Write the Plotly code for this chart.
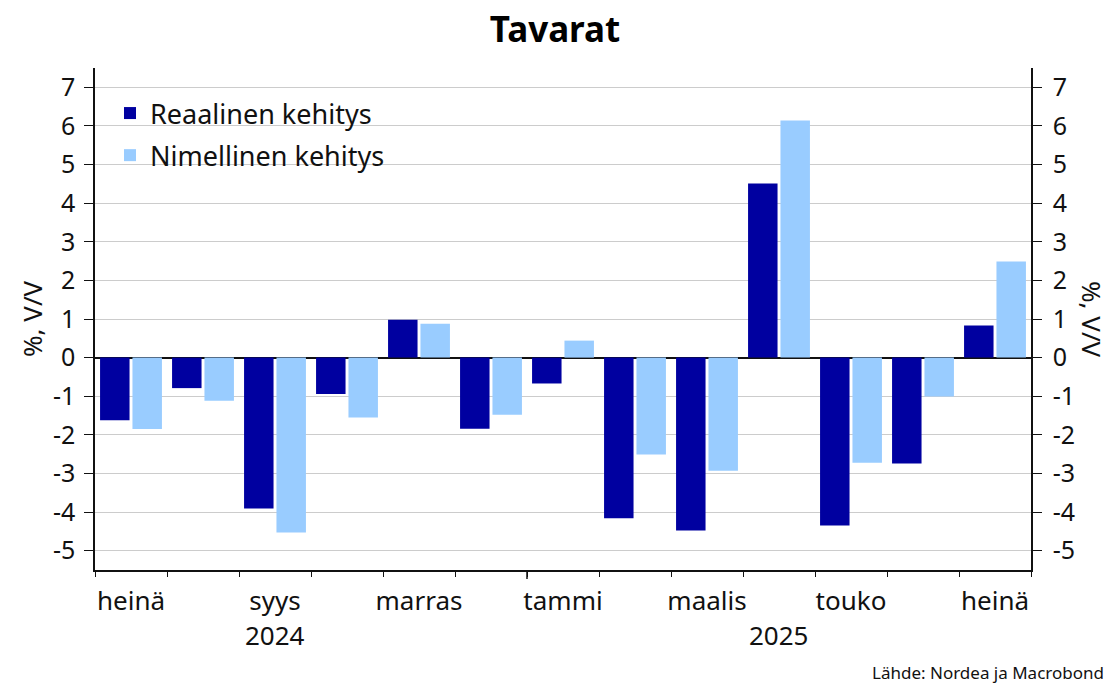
import plotly.graph_objects as go

# ---- data ----
months = ["heinä", "elo", "syys", "loka", "marras", "joulu",
          "tammi", "helmi", "maalis", "huhti", "touko", "kesä", "heinä"]
years = [2024, 2024, 2024, 2024, 2024, 2024,
         2025, 2025, 2025, 2025, 2025, 2025, 2025]
real = [-1.62, -0.79, -3.91, -0.94, 0.98, -1.84, -0.67, -4.16, -4.48, 4.51, -4.35, -2.74, 0.83]
nominal = [-1.85, -1.12, -4.53, -1.55, 0.88, -1.48, 0.44, -2.51, -2.93, 6.14, -2.72, -1.01, 2.49]
series_names = ["Reaalinen kehitys", "Nimellinen kehitys"]
y_ticks = list(range(-5, 8))

FONT = "Noto Sans"
DARK = "#0000A0"
LIGHT = "#99CCFF"

x = list(range(len(months)))
label_idx = x[::2]

fig = go.Figure()
fig.add_trace(go.Bar(x=x, y=real, name=series_names[0], marker=dict(color=DARK, line=dict(width=0)),
                     legendgroup="a"))
fig.add_trace(go.Bar(x=x, y=nominal, name=series_names[1], marker=dict(color=LIGHT, line=dict(width=0)),
                     legendgroup="b"))

W, H = 1110, 686
ml, mr, mt, mb = 95, 79, 68, 116
pw, ph = W - ml - mr, H - mt - mb

def px_x(p):
    return (p - ml) / pw

def px_y(p):
    return 1 - (p - mt) / ph

yr = [-5.5, 7.5]
ytickfont = dict(family=FONT, size=25, color="#111")

fig.update_layout(
    width=W, height=H,
    margin=dict(l=ml, r=mr, t=mt, b=mb, autoexpand=False),
    paper_bgcolor="white", plot_bgcolor="white",
    barmode="group", bargap=0.1, bargroupgap=0.09,
    font=dict(family=FONT, color="#111"),
    title=dict(text="<b>Tavarat</b>", x=0.5, xanchor="center", y=1 - 30 / H, yanchor="middle",
               font=dict(family=FONT, size=35, color="#000")),
    showlegend=True,
    legend=dict(x=px_x(110), y=px_y(89), xanchor="left", yanchor="top",
                bgcolor="rgba(0,0,0,0)", borderwidth=0, tracegroupgap=4,
                font=dict(family=FONT, size=27, color="#111"), itemwidth=30),
    xaxis=dict(range=[-0.5, len(months) - 0.5], showline=True, linecolor="#111", linewidth=1.5,
               tickmode="array", tickvals=label_idx, ticktext=[months[i] for i in label_idx],
               ticks="", showgrid=False, zeroline=False, ticklabelstandoff=7,
               tickfont=dict(family=FONT, size=26, color="#111"),
               minor=dict(tickmode="array", tickvals=[i - 0.5 for i in range(len(months) + 1)],
                          ticks="outside", ticklen=5, tickwidth=1.2, tickcolor="#111", showgrid=False)),
    yaxis=dict(range=yr, tickmode="array", tickvals=y_ticks, ticktext=[str(v) for v in y_ticks],
               showline=True, linecolor="#111", linewidth=1.5, ticks="outside", ticklen=9,
               tickcolor="#111", tickwidth=1.2, showgrid=True, gridcolor="#cccccc", gridwidth=1,
               zeroline=True, zerolinecolor="#111", zerolinewidth=1.5,
               tickfont=ytickfont, ticklabelstandoff=4),
    yaxis2=dict(range=yr, overlaying="y", side="right", tickmode="array", tickvals=y_ticks,
                ticktext=[str(v) for v in y_ticks], showline=True, linecolor="#111", linewidth=1.5,
                ticks="outside", ticklen=9, tickcolor="#111", tickwidth=1.2, showgrid=False,
                zeroline=False, tickfont=ytickfont, ticklabelstandoff=6),
)

# invisible trace so yaxis2 is drawn
fig.add_trace(go.Scatter(x=[x[0]], y=[0], yaxis="y2", mode="markers", marker=dict(opacity=0),
                         showlegend=False, hoverinfo="skip"))

# year labels centered under their labelled months
for yv in sorted(set(years)):
    idxs = [i for i in label_idx if years[i] == yv]
    fig.add_annotation(x=sum(idxs) / len(idxs), xref="x", y=px_y(635), yref="paper",
                       text=str(yv), showarrow=False, xanchor="center", yanchor="middle",
                       font=dict(family=FONT, size=26, color="#111"))

# longer tick at the year boundary
for i in range(1, len(years)):
    if years[i] != years[i - 1]:
        fig.add_shape(type="line", xref="x", yref="paper", x0=i - 0.5, x1=i - 0.5,
                      y0=0, y1=-9 / ph, line=dict(color="#111", width=1.5))

# axis titles
fig.add_annotation(x=px_x(32), xref="paper", y=0.5, yref="paper", text="%, V/V", textangle=-90,
                   showarrow=False, xanchor="center", yanchor="middle",
                   font=dict(family=FONT, size=26, color="#111"))
fig.add_annotation(x=px_x(1092), xref="paper", y=0.5, yref="paper", text="%, V/V", textangle=90,
                   showarrow=False, xanchor="center", yanchor="middle",
                   font=dict(family=FONT, size=26, color="#111"))

# source
fig.add_annotation(x=px_x(1106), xref="paper", y=px_y(672), yref="paper",
                   text="Lähde: Nordea ja Macrobond", showarrow=False, xanchor="right", yanchor="middle",
                   font=dict(family=FONT, size=17, color="#111"))

fig.write_html("out.html", config={"displayModeBar": False},
               post_script="document.body.style.margin='0';")
